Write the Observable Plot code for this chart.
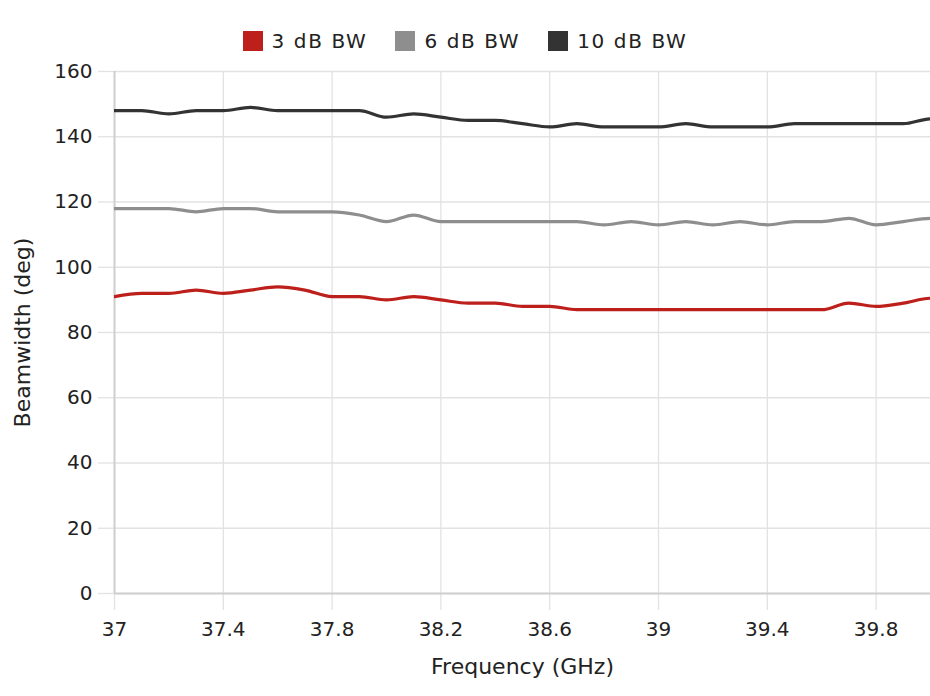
<!DOCTYPE html>
<html>
<head>
<meta charset="utf-8">
<script src="https://cdn.jsdelivr.net/npm/d3@7"></script>
<script src="https://cdn.jsdelivr.net/npm/@observablehq/plot@0.6"></script>
<style>
  body { margin: 0; background: #fff; font-family: "DejaVu Sans", sans-serif; color: #222; }
  #legend { height: 60px; box-sizing: border-box; padding-top: 31px; display: flex; justify-content: center; font-size: 20px; letter-spacing: 1.6px; }
  .item { display: flex; align-items: center; height: 20px; margin: 0 14px; }
  .sw { width: 20px; height: 20px; margin-right: 9px; }
</style>
</head>
<body>
<div id="legend"></div>
<div id="chart"></div>
<script>
const freq = [37.0, 37.1, 37.2, 37.3, 37.4, 37.5, 37.6, 37.7, 37.8, 37.9,
              38.0, 38.1, 38.2, 38.3, 38.4, 38.5, 38.6, 38.7, 38.8, 38.9,
              39.0, 39.1, 39.2, 39.3, 39.4, 39.5, 39.6, 39.7, 39.8, 39.9, 40.0, 40.1];
const bw3  = [91, 92, 92, 93, 92, 93, 94, 93, 91, 91,
              90, 91, 90, 89, 89, 88, 88, 87, 87, 87,
              87, 87, 87, 87, 87, 87, 87, 89, 88, 89, 90.5, 87];
const bw6  = [118, 118, 118, 117, 118, 118, 117, 117, 117, 116,
              114, 116, 114, 114, 114, 114, 114, 114, 113, 114,
              113, 114, 113, 114, 113, 114, 114, 115, 113, 114, 115, 112];
const bw10 = [148, 148, 147, 148, 148, 149, 148, 148, 148, 148,
              146, 147, 146, 145, 145, 144, 143, 144, 143, 143,
              143, 144, 143, 143, 143, 144, 144, 144, 144, 144, 145.5, 142];
const seriesNames = ["3 dB BW", "6 dB BW", "10 dB BW"];
const seriesColors = ["#bd1f1b", "#8e8e8e", "#333333"];
const xTicks = [37, 37.4, 37.8, 38.2, 38.6, 39, 39.4, 39.8];
const yTicks = [0, 20, 40, 60, 80, 100, 120, 140, 160];

const allSeries = [bw3, bw6, bw10];
const data = [];
allSeries.forEach((vals, si) => {
  vals.forEach((v, i) => data.push({series: seriesNames[si], f: freq[i], bw: v}));
});

// legend
const legend = document.getElementById("legend");
seriesNames.forEach((name, i) => {
  const it = document.createElement("div");
  it.className = "item";
  const sw = document.createElement("div");
  sw.className = "sw";
  sw.style.background = seriesColors[i];
  const tx = document.createElement("span");
  tx.textContent = name;
  it.appendChild(sw); it.appendChild(tx);
  legend.appendChild(it);
});

const chart = Plot.plot({
  width: 930,
  height: 636,
  marginTop: 11,
  marginBottom: 103,
  marginLeft: 114,
  marginRight: 0,
  style: {fontFamily: "DejaVu Sans, sans-serif", fontSize: "20px", color: "#222", background: "#fff"},
  x: {domain: [37, 40]},
  y: {domain: [0, 160]},
  color: {domain: seriesNames, range: seriesColors},
  marks: [
    Plot.gridY(yTicks, {stroke: "#e2e2e2", strokeOpacity: 1, strokeWidth: 1.3}),
    Plot.gridX(xTicks, {stroke: "#e2e2e2", strokeOpacity: 1, strokeWidth: 1.3}),
    Plot.axisX(xTicks, {tickSize: 17, tickPadding: 11, stroke: "#e2e2e2", strokeWidth: 1.3, tickFormat: d => String(d), label: null, fill: "#222"}),
    Plot.axisY(yTicks, {tickSize: 16, tickPadding: 6, stroke: "#e2e2e2", strokeWidth: 1.3, tickFormat: d => String(d), label: null, fill: "#222"}),
    Plot.ruleY([0], {stroke: "#cfcfcf", strokeWidth: 2}),
    Plot.ruleX([37], {stroke: "#cfcfcf", strokeWidth: 2}),
    Plot.line(data, {x: "f", y: "bw", z: "series", stroke: "series", strokeWidth: 3.2, curve: "monotone-x", clip: true}),
    Plot.text(["Frequency (GHz)"], {frameAnchor: "bottom", dy: 80, fontSize: 22, fill: "#222", textAnchor: "middle", style: "letter-spacing:1px"}),
    Plot.text(["Beamwidth (deg)"], {frameAnchor: "left", dx: -92, rotate: -90, fontSize: 22, fill: "#222", textAnchor: "middle", style: "letter-spacing:1px"})
  ]
});
document.getElementById("chart").appendChild(chart);
</script>
</body>
</html>
